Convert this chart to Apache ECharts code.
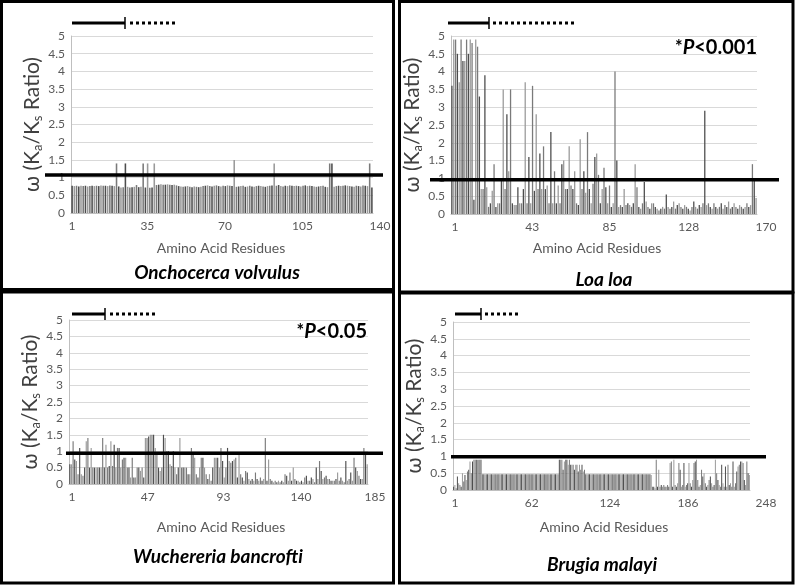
<!DOCTYPE html>
<html><head><meta charset="utf-8">
<script src="https://cdn.jsdelivr.net/npm/echarts@6/dist/echarts.min.js"></script>
<style>html,body{margin:0;padding:0;background:#fff}#c{width:796px;height:585px}</style>
</head><body><div id="c"></div>
<script>
// ---------------- DATA ----------------
const onchoValues = [
0.77,0.76,0.77,0.75,0.77,0.76,0.77,0.75,0.76,0.77,
0.76,0.77,0.76,0.78,0.77,0.77,0.76,0.78,0.77,0.76,
1.4,0.75,0.72,0.73,1.4,0.74,0.72,0.73,0.74,0.79,
0.73,0.74,1.4,0.72,1.4,0.71,0.72,1.4,0.79,0.8,
0.81,0.8,0.8,0.81,0.8,0.79,0.8,0.78,0.76,0.75,
0.74,0.75,0.76,0.74,0.73,0.75,0.74,0.73,0.74,0.76,
0.77,0.78,0.76,0.75,0.77,0.78,0.76,0.75,0.77,0.76,
0.78,0.77,0.76,1.5,0.74,0.75,0.76,0.77,0.74,0.75,
0.77,0.75,0.74,0.76,0.77,0.76,0.75,0.74,0.76,0.77,
0.78,1.4,0.77,0.79,0.76,0.75,0.77,0.76,0.78,0.77,
0.76,0.77,0.76,0.75,0.77,0.78,0.76,0.77,0.76,0.75,
0.74,0.75,0.76,0.77,0.74,0.73,1.4,1.4,0.74,0.76,
0.77,0.76,0.77,0.78,0.77,0.76,0.75,0.74,0.77,0.76,
0.75,0.78,0.77,0.76,1.4,0.72
];
const loaValues = [
3.6,4.9,4.9,4.5,3.7,4.9,4.3,4.3,4.9,4.5,
4.9,4.8,0.4,4.9,4.7,3.3,0.7,0.7,3.9,0.75,
0.2,0.3,0.65,1.4,0.2,0.3,0.3,0.95,3.5,0.7,
2.8,1.2,3.5,0.3,0.25,0.25,0.75,0.3,0.3,0.7,
3.7,0.3,1.6,0.3,3.6,0.65,2.8,0.7,1.7,0.7,
1.9,0.7,0.8,0.3,2.3,0.3,1.2,0.3,0.8,0.3,
1.4,1.5,0.7,0.7,1.9,0.8,0.7,1.2,0.3,0.25,
2.1,0.7,1.2,0.6,2.3,0.7,0.3,0.85,1.6,1.7,
1.1,0.3,0.7,1.3,0.75,0.3,0.8,0.2,0.3,4.0,
1.5,0.2,0.25,0.2,0.7,0.25,0.3,0.25,0.2,0.3,
1.4,0.75,0.2,0.15,0.3,0.9,0.35,0.2,0.15,0.3,
0.3,0.2,0.15,0.1,0.15,0.2,0.15,0.55,0.2,0.15,
0.2,0.35,0.15,0.25,0.3,0.2,0.15,0.25,0.2,0.15,
0.1,0.2,0.35,0.2,0.15,0.25,0.2,0.3,2.9,0.25,
0.3,0.2,0.15,0.3,0.2,0.15,0.2,0.3,0.15,0.25,
0.2,0.35,0.15,0.2,0.3,0.2,0.15,0.25,0.2,0.15,
0.2,0.3,0.2,0.25,1.4,0.95,0.45
];
const wuchValues = [
0.6,0.6,1.3,0.75,0.7,0.3,1.1,0.3,0.25,0.5,
1.3,1.4,0.5,1.1,0.5,0.5,0.5,0.5,0.5,0.5,
1.4,0.5,1.2,0.5,0.55,1.3,0.55,1.2,0.5,1.1,
1.1,0.5,0.75,0.8,0.8,0.5,0.5,0.2,0.8,0.2,
0.2,0.5,0.5,0.4,0.5,0.2,1.4,1.4,1.45,1.5,
1.5,1.5,1.1,0.9,0.5,0.4,0.5,1.5,1.4,1.0,
1.0,0.6,0.55,1.0,0.5,0.3,0.5,1.4,0.5,0.5,
0.5,0.5,0.3,0.3,1.1,0.9,0.8,0.3,0.2,0.5,
0.8,0.8,0.5,0.3,0.15,0.3,0.1,0.5,0.8,0.8,
0.8,0.5,1.1,0.7,0.2,0.5,1.1,0.7,0.65,0.7,
0.75,0.8,0.2,0.9,0.3,0.2,0.1,0.4,0.35,0.15,
0.1,0.15,0.1,0.35,0.15,0.1,0.2,0.1,0.15,1.4,
0.1,0.75,0.15,0.1,0.05,0.1,0.05,0.1,0.05,0.1,
0.05,0.3,0.25,0.1,0.35,0.1,0.5,0.15,0.1,0.1,
0.05,0.1,0.05,0.2,0.25,0.1,0.1,0.2,0.15,0.05,
0.5,0.15,0.7,0.4,0.15,0.2,0.25,0.15,0.15,0.1,
0.1,0.1,0.15,0.35,0.1,0.2,0.1,0.05,0.7,0.1,
0.15,0.35,0.1,0.8,0.5,0.4,0.25,0.15,0.15,1.1,
0.9,0.6
];
const brugiaValues = [
0.1,0.15,0.05,0.4,0.2,0.15,0.1,0.5,0.25,0.45,
0.3,0.55,0.6,0.85,0.5,0.85,0.9,0.9,0.9,0.9,
0.9,0.9,0.9,
0.47,0.47,0.47,0.47,0.47,0.47,0.47,0.47,0.47,0.47,
0.47,0.47,0.47,0.47,0.47,0.47,0.47,0.47,0.47,0.47,
0.47,0.47,0.47,0.47,0.47,0.47,0.47,0.47,0.47,0.47,
0.47,0.47,0.47,0.47,0.47,0.47,0.47,0.47,0.47,0.47,
0.47,0.47,0.47,0.47,0.47,0.47,0.47,0.47,0.47,0.47,
0.47,0.47,0.47,0.47,0.47,0.47,0.47,0.47,0.47,0.47,
0.47,
0.9,0.9,0.9,0.6,0.85,0.9,0.9,0.75,0.9,0.75,
0.75,0.75,0.6,0.75,0.75,0.55,0.75,0.6,0.75,0.55,
0.6,
0.47,0.47,0.47,0.47,0.47,0.47,0.47,0.47,0.47,0.47,
0.47,0.47,0.47,0.47,0.47,0.47,0.47,0.47,0.47,0.47,
0.47,0.47,0.47,0.47,0.47,0.47,0.47,0.47,0.47,0.47,
0.47,0.47,0.47,0.47,0.47,0.47,0.47,0.47,0.47,0.47,
0.47,0.47,0.47,0.47,0.47,0.47,0.47,0.47,0.47,0.47,
0.47,0.47,
0.45,0.1,0.1,0.05,0.9,0.1,0.6,0.1,0.15,0.1,
0.15,0.1,0.1,0.15,0.1,0.8,0.85,0.1,0.9,0.15,
0.1,0.2,0.8,0.6,0.1,0.15,0.8,0.1,0.15,0.2,
0.8,0.2,0.1,0.3,0.8,0.85,0.9,0.3,0.1,0.15,
0.6,0.4,0.5,0.2,0.1,0.15,0.3,0.4,0.2,0.1,
0.15,0.9,0.5,0.3,0.15,0.1,0.75,0.2,0.1,0.7,
0.1,0.75,0.15,0.2,0.1,0.85,0.1,0.2,0.55,0.7,
0.75,0.85,0.85,0.8,0.3,0.15,0.85,0.5,0.45
];
const onchoTicks = [1, 35, 70, 105, 140];
const loaTicks = [1, 43, 85, 128, 170];
const wuchTicks = [1, 47, 93, 140, 185];
const brugiaTicks = [1, 62, 124, 186, 248];
const speciesNames = ['Onchocerca volvulus', 'Loa loa', 'Wuchereria bancrofti', 'Brugia malayi'];
const pValueLabels = ['', '<0.001', '<0.05', ''];
const thresholds = [1.07, 0.96, 0.94, 0.99];
const xTitle = 'Amino Acid Residues';

// ---------------- LAYOUT ----------------
const FONT = 'Lato';
const layouts = [
  {main:{left:71,top:36,width:302,height:177}, lab:{left:72,width:308}, gap:26, thr:[45,383],
   xt:[221,248], sp:[217,273], p:null, dom:{s:[72,125],d:[130,178],y:23}, box:[1.5,1.5,392,288]},
  {main:{left:451,top:36,width:306,height:178}, lab:{left:455,width:311}, gap:26, thr:[430,779],
   xt:[597,248], sp:[604,280], p:[757,48], dom:{s:[448,489],d:[493,574],y:23}, box:[399.5,1.5,393.5,290.5]},
  {main:{left:69,top:320,width:299,height:164}, lab:{left:72,width:303}, gap:26, thr:[66,383],
   xt:[221,527], sp:[218,557], p:[367,332], dom:{s:[72,105],d:[110,157],y:314}, box:[1.5,292,392,291]},
  {main:{left:453,top:322,width:297,height:168}, lab:{left:455,width:311}, gap:26, thr:[451,766],
   xt:[604,527], sp:[602,565], p:null, dom:{s:[455,481],d:[485,521],y:314}, box:[399.5,293,393.5,290]}
];
const valueSets = [onchoValues, loaValues, wuchValues, brugiaValues];
const tickSets = [onchoTicks, loaTicks, wuchTicks, brugiaTicks];

const grids = [], xAxes = [], yAxes = [], series = [];
layouts.forEach((L, i) => {
  const vals = valueSets[i], ticks = tickSets[i];
  grids.push({left:L.main.left, top:L.main.top, width:L.main.width, height:L.main.height});
  grids.push({left:L.lab.left, top:L.main.top, width:L.lab.width, height:L.main.height});
  xAxes.push({type:'category', gridIndex:2*i, data:vals.map((_, k) => k + 1), boundaryGap:true,
    axisLine:{lineStyle:{color:'#bfbfbf', width:1}},
    axisTick:{interval:0, length:3, lineStyle:{color:'#c8c8c8'}},
    axisLabel:{show:false}, splitLine:{show:false}});
  xAxes.push({type:'value', gridIndex:2*i+1, min:ticks[0], max:ticks[ticks.length-1],
    axisLine:{show:false}, axisTick:{show:false}, splitLine:{show:false},
    axisLabel:{customValues:ticks, fontSize:12, color:'#595959', margin:7, fontFamily:FONT}});
  yAxes.push({type:'value', gridIndex:2*i, min:0, max:5, interval:0.5,
    axisLine:{show:true, lineStyle:{color:'#bfbfbf'}}, axisTick:{show:false},
    splitLine:{lineStyle:{color:'#d9d9d9'}},
    axisLabel:{fontSize:12, color:'#595959', margin:6, fontFamily:FONT},
    name:'{a|\u03C9 (K}{s|a}{a|/K}{s|s}{a| Ratio)}', nameLocation:'middle', nameGap:L.gap,
    nameTextStyle:{fontFamily:FONT, fontSize:21, color:'#404040',
      rich:{a:{fontFamily:FONT, fontSize:21, color:'#404040', lineHeight:25},
            s:{fontFamily:FONT, fontSize:13, color:'#404040', verticalAlign:'bottom', lineHeight:15}}}});
  yAxes.push({type:'value', gridIndex:2*i+1, min:0, max:1, show:false});
  series.push({type:'bar', xAxisIndex:2*i, yAxisIndex:2*i, data:vals, barCategoryGap:'30%',
    silent:true, animation:false,
    itemStyle:{color:(d) => (d.dataIndex % 3 === 0 ? '#4d4d4d' : (d.dataIndex % 3 === 1 ? '#9a9a9a' : '#7a7a7a'))}});
});

const chart = echarts.init(document.getElementById('c'), null, {renderer:'canvas'});
chart.setOption({animation:false, backgroundColor:'#fff', grid:grids, xAxis:xAxes, yAxis:yAxes, series:series});

const els = [];
layouts.forEach((L, i) => {
  const b = L.box;
  els.push({type:'rect', shape:{x:b[0], y:b[1], width:b[2], height:b[3]}, style:{fill:null, stroke:'#000', lineWidth:3}, z:50});
  const y = chart.convertToPixel({yAxisIndex:2*i}, thresholds[i]);
  els.push({type:'line', shape:{x1:L.thr[0], y1:y, x2:L.thr[1], y2:y}, style:{stroke:'#000', lineWidth:3.5}, z:60});
  const d = L.dom;
  els.push({type:'line', shape:{x1:d.s[0], y1:d.y, x2:d.s[1], y2:d.y}, style:{stroke:'#000', lineWidth:3}, z:60});
  els.push({type:'line', shape:{x1:d.s[1], y1:d.y-6, x2:d.s[1], y2:d.y+6}, style:{stroke:'#000', lineWidth:1.5}, z:60});
  els.push({type:'line', shape:{x1:d.d[0], y1:d.y, x2:d.d[1], y2:d.y}, style:{stroke:'#000', lineWidth:3, lineDash:[3,3]}, z:60});
  els.push({type:'text', x:L.xt[0], y:L.xt[1], style:{text:xTitle, font:'14px ' + FONT, fill:'#595959', align:'center', verticalAlign:'middle'}, z:60});
  els.push({type:'text', x:L.sp[0], y:L.sp[1], style:{text:speciesNames[i], font:'italic bold 19px ' + FONT, fill:'#000', align:'center', verticalAlign:'middle'}, z:60});
  if (L.p) {
    els.push({type:'text', x:L.p[0], y:L.p[1], style:{text:'{st|*}{it|P}{b|' + pValueLabels[i] + '}', align:'right', verticalAlign:'middle',
      rich:{st:{font:'bold 18px ' + FONT, fill:'#000', verticalAlign:'top'}, it:{font:'italic bold 20px ' + FONT, fill:'#000'}, b:{font:'bold 20px ' + FONT, fill:'#000'}}}, z:60});
  }
});
chart.setOption({graphic:{elements:els}});
</script></body></html>
